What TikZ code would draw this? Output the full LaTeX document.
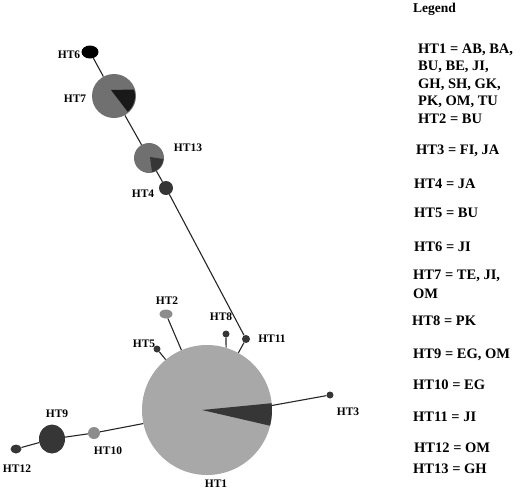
\documentclass[tikz,border=0pt]{standalone}
\usepackage{fontspec}
\setmainfont{Liberation Serif}
\usetikzlibrary{shapes.geometric, calc}
\definecolor{hlight}{gray}{0.66}
\definecolor{hmid}{gray}{0.44}
\definecolor{hpale}{gray}{0.55}
\definecolor{hdark}{gray}{0.21}

\begin{document}
\begin{tikzpicture}[x=1pt, y=-1pt,
                  hap/.style={circle, draw=none, inner sep=0pt, fill=#1},
                  ehap/.style={ellipse, draw=none, inner sep=0pt, fill=#1},
                  wedge/.style={fill=#1},
                  edge/.style={draw=black!85, line width=1.1pt},
                  lbl/.style={font=\fontsize{11.5}{12}\selectfont\bfseries, inner sep=0pt},
                  leg/.style={font=\fontsize{14.5}{17}\selectfont\bfseries, inner sep=0pt, anchor=base west},
            ]
            \useasboundingbox (0,0) rectangle (520,491);

            \node[hap=hlight, minimum size=130pt] (ht1) at (207,410) {};
            \node[ehap=hpale, minimum width=13pt, minimum height=9pt] (ht2) at (166,314) {};
            \node[hap=hdark, minimum size=7pt] (ht3) at (330,395) {};
            \node[hap=hdark, minimum size=14pt] (ht4) at (166,188) {};
            \node[hap=hdark, minimum size=7pt] (ht5) at (157,349) {};
            \node[ehap=black, minimum width=17pt, minimum height=13pt] (ht6) at (90,52) {};
            \node[hap=hmid, minimum size=44pt] (ht7) at (114,96) {};
            \node[hap=hdark, minimum size=7pt] (ht8) at (226,334) {};
            \node[ehap=hdark, minimum width=26pt, minimum height=29pt] (ht9) at (52,439) {};
            \node[hap=hpale, minimum size=12pt] (ht10) at (94,433) {};
            \node[hap=hdark, minimum size=8pt] (ht11) at (246,339) {};
            \node[ehap=hdark, minimum width=11pt, minimum height=9pt] (ht12) at (16,449) {};
            \node[hap=hmid, minimum size=30pt] (ht13) at (149,158) {};

            \fill[wedge=hdark] ($(ht1.center)+(-5,0)$) -- ($(ht1.center)+(-6:65)$)
                  arc[start angle=-6, end angle=14, radius=65] -- cycle;
            \fill[wedge=black!90] ($(ht7.center)+(-3,-6)$) -- ($(ht7.center)+(-18:21)$)
                  arc[start angle=-18, end angle=49, radius=21] -- cycle;
            \fill[wedge=hdark] ($(ht13.center)+(1,-1)$) -- ($(ht13.center)+(4:14.5)$)
                  arc[start angle=4, end angle=78, radius=14.5] -- cycle;

            \draw[edge] (ht6) -- (ht7);
            \draw[edge] (ht7) -- (ht13);
            \draw[edge] (ht13) -- (ht4);
            \draw[edge] (ht4) -- (ht11);
            \draw[edge] (ht11) -- (ht1);
            \draw[edge] (ht8) -- (ht1.73);
            \draw[edge] (ht2) -- (ht1);
            \draw[edge] (ht5) -- (ht1);
            \draw[edge] (ht1.4) -- (ht3);
            \draw[edge] (ht1.192) -- (ht10);
            \draw[edge] (ht10) -- (ht9);
            \draw[edge] (ht9) -- (ht12);

            \node[lbl] (l1) at (216,484) {HT1};
            \node[lbl] (l2) at (167,301) {HT2};
            \node[lbl] (l3) at (348,412) {HT3};
            \node[lbl] (l4) at (143,194) {HT4};
            \node[lbl] (l5) at (144,344) {HT5};
            \node[lbl] (l6) at (69,55) {HT6};
            \node[lbl] (l7) at (75,99) {HT7};
            \node[lbl] (l8) at (221,317) {HT8};
            \node[lbl] (l9) at (57,414) {HT9};
            \node[lbl] (l10) at (108,451) {HT10};
            \node[lbl] (l11) at (272,339) {HT11};
            \node[lbl] (l12) at (17,469) {HT12};
            \node[lbl] (l13) at (188,148) {HT13};

            \node[leg, font=\fontsize{13.5}{15}\selectfont\bfseries] (lgt) at (413,12) {Legend};
            \node[leg] (lg1a) at (418,53) {HT1 = AB, BA,};
            \node[leg] (lg1b) at (418,70.5) {BU, BE, JI,};
            \node[leg] (lg1c) at (418,88) {GH, SH, GK,};
            \node[leg] (lg1d) at (418,105.5) {PK, OM, TU};
            \node[leg] (lg2) at (418,123) {HT2 = BU};
            \node[leg] (lg3) at (416,154) {HT3 = FI, JA};
            \node[leg] (lg4) at (414,188) {HT4 = JA};
            \node[leg] (lg5) at (414,217) {HT5 = BU};
            \node[leg] (lg6) at (414,251) {HT6 = JI};
            \node[leg] (lg7a) at (413,279) {HT7 = TE, JI,};
            \node[leg] (lg7b) at (413,298) {OM};
            \node[leg] (lg8) at (412,325) {HT8 = PK};
            \node[leg] (lg9) at (413,358) {HT9 = EG, OM};
            \node[leg] (lg10) at (413,389) {HT10 = EG};
            \node[leg] (lg11) at (413,421.5) {HT11 = JI};
            \node[leg] (lg12) at (414,452) {HT12 = OM};
            \node[leg] (lg13) at (413,473) {HT13 = GH};

      \end{tikzpicture}
\end{document}
